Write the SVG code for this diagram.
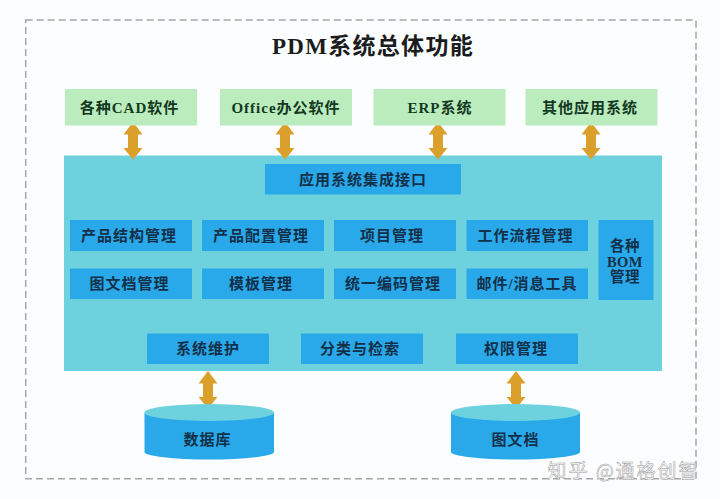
<svg xmlns="http://www.w3.org/2000/svg" width="720" height="499" viewBox="0 0 720 499">
<style>
text{font-family:"Liberation Serif","Noto Sans CJK SC",serif;font-weight:700;text-anchor:middle;dominant-baseline:central;fill:#123049;font-size:15px;letter-spacing:1px}
.g rect{fill:#bbecbd}.g text{fill:#12381f}
.b rect{fill:#2aa9ea}
.top{fill:#6dd2de}.cyl{fill:#2aa9ea}
.arrow{fill:#db9f2b}
.bomt{font-size:14.500px;letter-spacing:.5px}
</style>
<defs>
<path id="a" d="M0 0L9.500 12.500H5V26H9.500L0 37.500L-9.500 26H-5V12.500H-9.500Z"/>
</defs>
<rect width="720" height="499" fill="#fbfcfe"/>
<rect x="25.700" y="20" width="670.300" height="458.700" fill="#fcfdff" stroke="#a3a5a8" stroke-width="1.500" stroke-dasharray="7 4"/>
<text x="373" y="46.500" style="font-size:23px;letter-spacing:1.300px;fill:#1a1c20">PDM系统总体功能</text>
<g id="main"><rect x="64" y="155.500" width="598" height="215.500" fill="#6dd2de"/></g>
<g id="connectors" class="arrow">
<use href="#a" x="133" y="122"/><use href="#a" x="285" y="122"/><use href="#a" x="438" y="122"/><use href="#a" x="591" y="122"/>
<use href="#a" x="208" y="371"/><use href="#a" x="516" y="371"/>
</g>
<g id="cad" class="g"><rect x="65" y="89" width="132" height="36.500"/><text x="129.500" y="107.500">各种CAD软件</text></g>
<g id="office" class="g"><rect x="220" y="89" width="132" height="36.500"/><text x="286" y="107.500">Office办公软件</text></g>
<g id="erp" class="g"><rect x="373.500" y="89" width="132" height="36.500"/><text x="440" y="107.500">ERP系统</text></g>
<g id="other" class="g"><rect x="525.500" y="89" width="132" height="36.500"/><text x="590" y="107.500">其他应用系统</text></g>
<g id="integration" class="b"><rect x="265" y="164" width="196" height="30.500"/><text x="363" y="179.500">应用系统集成接口</text></g>
<g id="n1" class="b"><rect x="70" y="220" width="122" height="31"/><text x="129" y="235.800">产品结构管理</text></g>
<g id="n2" class="b"><rect x="202" y="220" width="122" height="31"/><text x="261" y="235.800">产品配置管理</text></g>
<g id="n3" class="b"><rect x="334" y="220" width="122" height="31"/><text x="392" y="235.800">项目管理</text></g>
<g id="n4" class="b"><rect x="466.500" y="220" width="121.500" height="31"/><text x="525.500" y="235.800">工作流程管理</text></g>
<g id="n5" class="b"><rect x="70" y="268.500" width="122" height="30.500"/><text x="129.500" y="284">图文档管理</text></g>
<g id="n6" class="b"><rect x="202" y="268.500" width="122" height="30.500"/><text x="261" y="284">模板管理</text></g>
<g id="n7" class="b"><rect x="334" y="268.500" width="122" height="30.500"/><text x="393" y="284">统一编码管理</text></g>
<g id="n8" class="b"><rect x="466.500" y="268.500" width="121.500" height="30.500"/><text x="527" y="284">邮件/消息工具</text></g>
<g id="bom" class="b"><rect x="598.500" y="220" width="55" height="80"/><text class="bomt" x="625" y="246">各种</text><text class="bomt" x="625" y="261.500">BOM</text><text class="bomt" x="625" y="277">管理</text></g>
<g id="n9" class="b"><rect x="147" y="333.500" width="122" height="30.500"/><text x="208" y="349">系统维护</text></g>
<g id="n10" class="b"><rect x="301" y="333.500" width="122" height="30.500"/><text x="360" y="349">分类与检索</text></g>
<g id="n11" class="b"><rect x="456" y="333.500" width="122" height="30.500"/><text x="516" y="349">权限管理</text></g>
<g id="db"><path class="cyl" d="M144.500 412.500V452A64.750 7.500 0 0 0 274 452V412.500Z"/><ellipse class="top" cx="209.200" cy="412.500" rx="64.800" ry="8.500"/><text x="207.500" y="440">数据库</text></g>
<g id="docs"><path class="cyl" d="M451 412.500V452A64.500 7.500 0 0 0 580 452V412.500Z"/><ellipse class="top" cx="515.500" cy="412.500" rx="64.500" ry="8.500"/><text x="515.500" y="440">图文档</text></g>
<text id="watermark" x="623.500" y="469" style="font-family:'Noto Sans CJK SC',sans-serif;font-weight:400;font-size:19px;fill:#fff;stroke:#9a9a9a;stroke-width:.5px;letter-spacing:2px">知乎 @通格创智</text>
</svg>
